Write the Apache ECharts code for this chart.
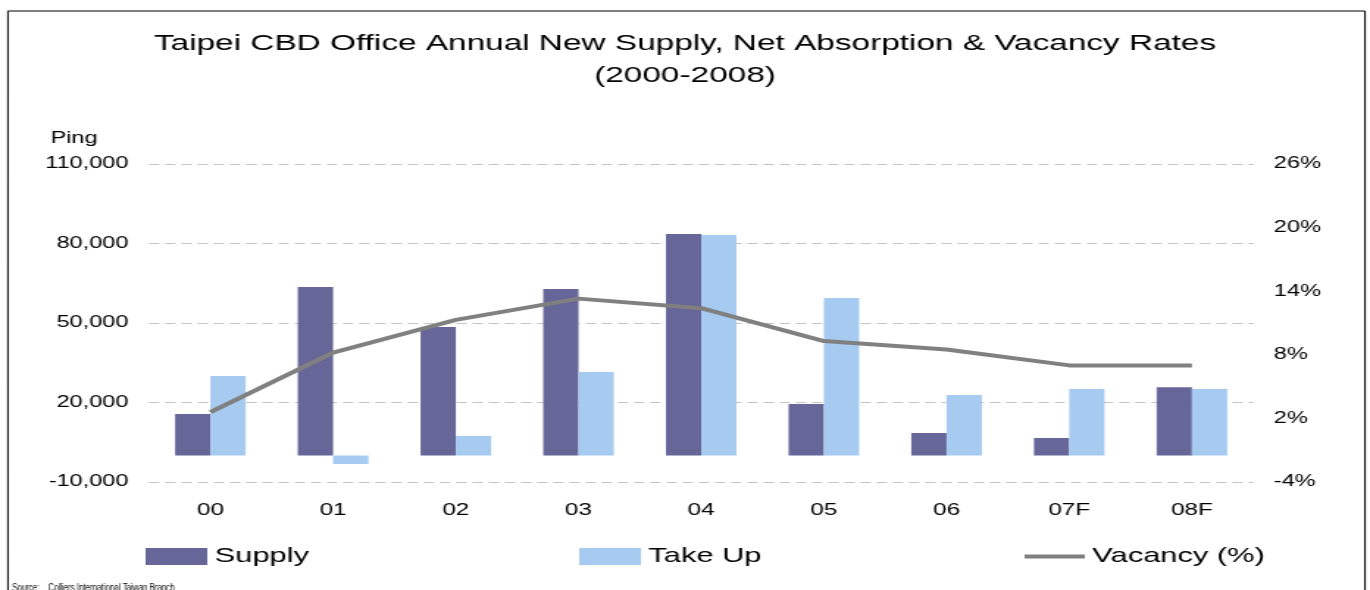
<!DOCTYPE html>
<html>
<head>
<meta charset="utf-8">
<script src="https://cdn.jsdelivr.net/npm/echarts@6/dist/echarts.min.js"></script>
<style>
html,body{margin:0;padding:0;background:#fff;}
#wrap{width:1370px;height:590px;overflow:hidden;position:relative;}
#c{width:932px;height:590px;transform:scaleX(1.46996);transform-origin:0 0;}
</style>
</head>
<body>
<div id="wrap"><div id="c"></div></div>
<script>
// Data
const categories = ['00', '01', '02', '03', '04', '05', '06', '07F', '08F'];
const supply = [15700, 63600, 48500, 62800, 83600, 19400, 8500, 6600, 25800];
const takeUp = [30000, -3200, 7400, 31500, 83200, 59400, 22800, 25100, 25100];
const vacancy = [2.6, 8.2, 11.3, 13.3, 12.4, 9.3, 8.5, 7.0, 7.0];
const leftAxis = {min: -10000, max: 110000, interval: 30000};
const rightAxis = {min: -4, max: 26, interval: 6};

const FONT = 'Liberation Sans, Arial, sans-serif';
const chart = echarts.init(document.getElementById('c'), null, {renderer: 'canvas'});

chart.setOption({
  animation: false,
  backgroundColor: '#fff',
  textStyle: {fontFamily: FONT, color: '#000'},
  title: {
    text: 'Taipei CBD Office Annual New Supply, Net Absorption & Vacancy Rates\n(2000-2008)',
    left: 'center',
    top: 27.5,
    padding: [0, 0, 0, 6],
    textStyle: {fontSize: 22.7, lineHeight: 32, fontWeight: 'normal', color: '#000', fontFamily: FONT}
  },
  grid: {left: 101.4, right: 79.4, top: 164, bottom: 108, containLabel: false},
  legend: [
    {data: [{name: 'Supply', icon: 'rect'}], left: 99, top: 546, padding: 0, itemWidth: 42, itemHeight: 17, itemGap: 0,
     textStyle: {fontSize: 21, color: '#000', fontFamily: FONT}},
    {data: [{name: 'Take Up', icon: 'rect'}], left: 394, top: 546, padding: 0, itemWidth: 42, itemHeight: 17, itemGap: 0,
     textStyle: {fontSize: 21, color: '#000', fontFamily: FONT}},
    {data: [{name: 'Vacancy (%)', icon: 'rect'}], left: 697, top: 546, padding: 0, itemWidth: 41, itemHeight: 4, itemGap: 0,
     textStyle: {fontSize: 21, color: '#000', fontFamily: FONT}}
  ],
  xAxis: {
    type: 'category',
    data: categories,
    axisLine: {show: false, onZero: false},
    axisTick: {show: false},
    axisLabel: {fontSize: 16.5, color: '#000', margin: 20, fontFamily: FONT},
    splitLine: {show: false}
  },
  yAxis: [
    {
      type: 'value',
      min: leftAxis.min, max: leftAxis.max, interval: leftAxis.interval,
      name: 'Ping',
      nameLocation: 'end',
      nameGap: 17,
      nameTextStyle: {fontSize: 16, color: '#000', align: 'right', padding: [0, 35, 0, 0], fontFamily: FONT},
      axisLine: {show: false},
      axisTick: {show: false},
      axisLabel: {fontSize: 16, color: '#000', margin: 14, fontFamily: FONT,
        formatter: v => v.toLocaleString('en-US')},
      splitLine: {show: true, lineStyle: {color: '#c4c4c4', width: 1, type: [7, 4]}}
    },
    {
      type: 'value',
      min: rightAxis.min, max: rightAxis.max, interval: rightAxis.interval,
      position: 'right',
      axisLine: {show: false},
      axisTick: {show: false},
      axisLabel: {fontSize: 16, color: '#000', margin: 14, fontFamily: FONT,
        formatter: v => v + '%'},
      splitLine: {show: false}
    }
  ],
  series: [
    {name: 'Supply', type: 'bar', data: supply, barWidth: 24, barGap: '0%',
     itemStyle: {color: '#666699'}},
    {name: 'Take Up', type: 'bar', data: takeUp, barWidth: 24, barGap: '0%',
     itemStyle: {color: '#A6CAF0'}},
    {name: 'Vacancy (%)', type: 'line', yAxisIndex: 1, data: vacancy, symbol: 'none', z: 3,
     lineStyle: {color: '#808080', width: 4}, itemStyle: {color: '#808080'}}
  ],
  graphic: [
    {type: 'rect', silent: true, z: -1,
     shape: {x: 5.4, y: 11, width: 923.2, height: 620},
     style: {fill: 'none', stroke: '#000', lineWidth: 1}},
    {type: 'text', silent: true, x: 8.2, y: 582, scaleX: 0.49,
     style: {text: 'Source:    Colliers International Taiwan Branch', fontSize: 11, fill: '#000', fontFamily: FONT}}
  ]
});
</script>
</body>
</html>
